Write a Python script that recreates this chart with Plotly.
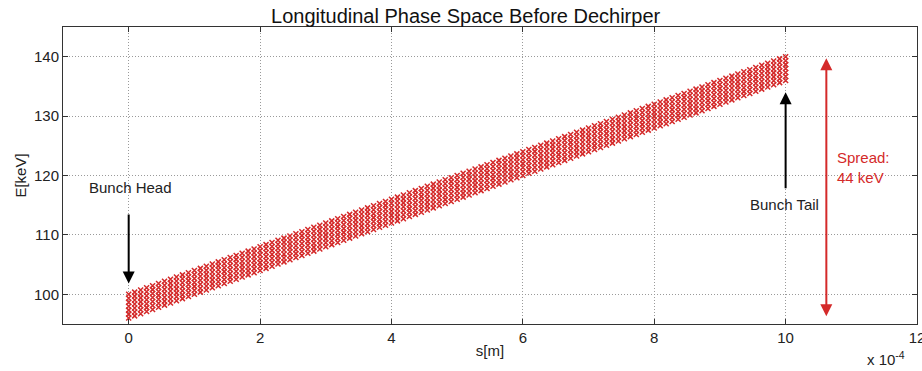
import numpy as np
import plotly.graph_objects as go

# Data
s_head = 0.0          # m
s_tail = 10e-4        # m
E_head_low = 96.0     # keV
E_head_high = 100.0   # keV
E_tail_low = 136.0    # keV
E_tail_high = 140.0   # keV
n_columns = 111
n_rows = 7

x_tickvals = [0, 2e-4, 4e-4, 6e-4, 8e-4, 10e-4, 12e-4]
x_ticktext = ["0", "2", "4", "6", "8", "10", "12"]
y_tickvals = [100, 110, 120, 130, 140]

s_cols = np.linspace(s_head, s_tail, n_columns)
frac = (s_cols - s_head) / (s_tail - s_head)
low = E_head_low + frac * (E_tail_low - E_head_low)
high = E_head_high + frac * (E_tail_high - E_head_high)
xs, ys = [], []
for i in range(n_rows):
    t = i / (n_rows - 1)
    xs.extend(s_cols)
    ys.extend(low + t * (high - low))

red = "#d42a2a"
FONT = "Arial, Liberation Sans"
fig = go.Figure()
fig.add_trace(go.Scatter(
    x=xs, y=ys, mode="markers",
    marker=dict(symbol="x-thin-open", size=5, color=red, line=dict(color=red, width=1.5)),
    showlegend=False, hoverinfo="skip", cliponaxis=False))

axis_common = dict(
    showline=True, linecolor="#333", linewidth=1, mirror="allticks",
    ticks="inside", ticklen=5, tickcolor="#333", automargin=False,
    showgrid=True, gridcolor="#9a9a9a", griddash="1px,2px", gridwidth=1,
    zeroline=False, tickfont=dict(family=FONT, size=15, color="#222"),
    ticklabeloverflow="allow",
)
fig.update_xaxes(range=[-1e-4, 12e-4], tickvals=x_tickvals, ticktext=x_ticktext,
                 title=dict(text="s[m]", font=dict(family=FONT, size=15, color="#222"), standoff=0),
                 **axis_common)
fig.update_yaxes(range=[95, 145], tickvals=y_tickvals,
                 title=dict(text="E[keV]", font=dict(family=FONT, size=15, color="#222"), standoff=3),
                 **axis_common)

font = dict(family=FONT, size=15, color="#222")
ann = [
    # Bunch head
    dict(x=0, y=101.8, ax=0, ay=113.7, xref="x", yref="y", axref="x", ayref="y",
         text="", showarrow=True, arrowhead=2, arrowsize=1.2, arrowwidth=2, arrowcolor="black"),
    dict(x=0.03e-4, y=118.0, xref="x", yref="y", text="Bunch Head", showarrow=False, font=font),
    # Bunch tail
    dict(x=10e-4, y=134.0, ax=10e-4, ay=117.6, xref="x", yref="y", axref="x", ayref="y",
         text="", showarrow=True, arrowhead=2, arrowsize=1.2, arrowwidth=2, arrowcolor="black"),
    dict(x=9.98e-4, y=115.2, xref="x", yref="y", text="Bunch Tail", showarrow=False, font=font),
    # Spread
    dict(x=10.62e-4, y=96.3, ax=10.62e-4, ay=140.0, xref="x", yref="y", axref="x", ayref="y",
         text="", showarrow=True, arrowhead=2, startarrowhead=2, arrowside="end+start",
         arrowsize=1.2, startarrowsize=1.2, arrowwidth=2, arrowcolor=red),
    dict(x=10.75e-4, y=121.4, xref="x", yref="y", xanchor="left", align="left",
         text="Spread:<br>44 keV", showarrow=False,
         font=dict(family=FONT, size=15, color=red)),
    # exponent label
    dict(x=1.0, y=0, xref="paper", yref="paper", xanchor="right", yanchor="top", yshift=-23, xshift=-10,
         text="x 10<sup>-4</sup>", showarrow=False, font=font),
]

fig.update_layout(
    width=922, height=371,
    margin=dict(l=63, r=5, t=27, b=47),
    paper_bgcolor="white", plot_bgcolor="white",
    title=dict(text="Longitudinal Phase Space Before Dechirper", x=0.505, xanchor="center",
               y=0.957, yanchor="middle", pad=dict(t=0, b=0),
               font=dict(family=FONT, size=20, color="#111")),
    annotations=ann,
)
fig.write_html("out.html", config={"displayModeBar": False},
               post_script="document.body.style.margin='0';")
